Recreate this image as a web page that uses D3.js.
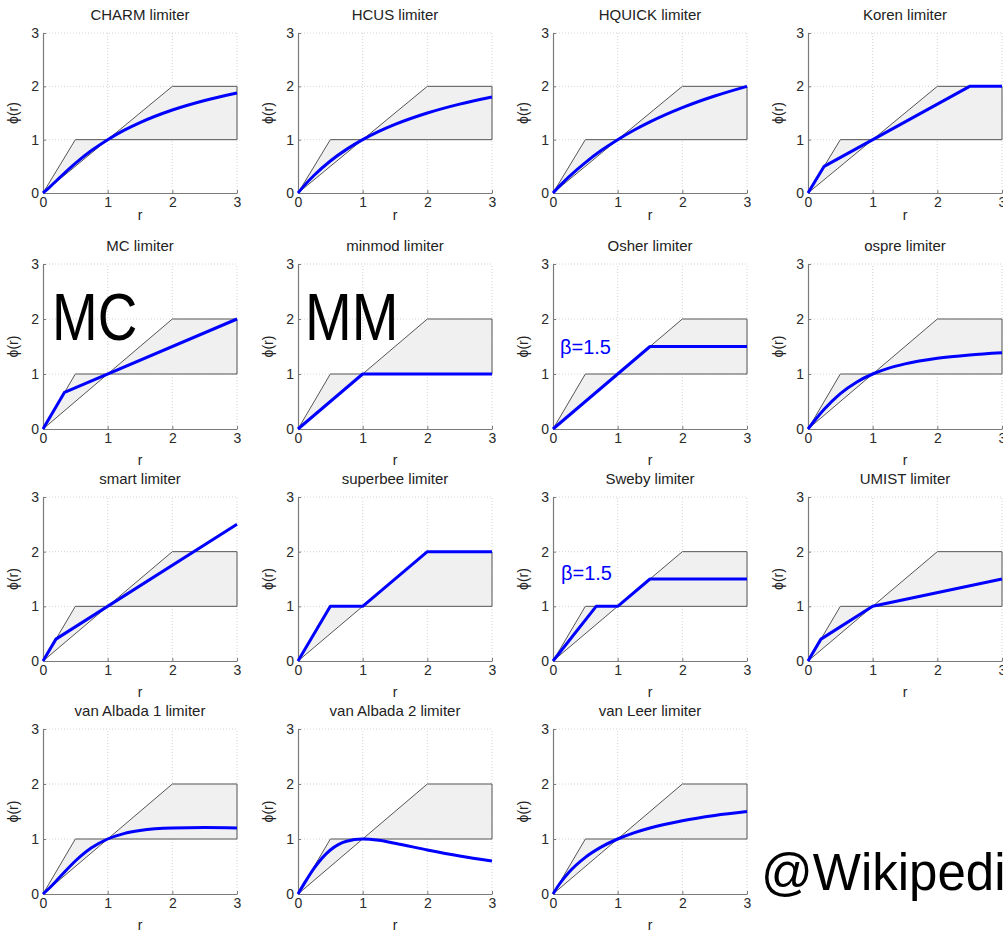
<!DOCTYPE html>
<html>
<head>
<meta charset="utf-8">
<script src="https://cdn.jsdelivr.net/npm/d3@7"></script>
<style>
  body { margin: 0; background: #fff; }
  svg { display: block; font-family: "Liberation Sans", Arial, sans-serif; }
</style>
</head>
<body>
<div id="chart"></div>
<script>
// panel titles, in reading order
const titles = [
    'CHARM limiter', 'HCUS limiter', 'HQUICK limiter', 'Koren limiter',
    'MC limiter', 'minmod limiter', 'Osher limiter', 'ospre limiter',
    'smart limiter', 'superbee limiter', 'Sweby limiter', 'UMIST limiter',
    'van Albada 1 limiter', 'van Albada 2 limiter', 'van Leer limiter'
];

// phi(r) as [r, phi]
const charm = [[0, 0], [0.1, 0.107], [0.25, 0.28], [0.5, 0.556], [0.75, 0.796], [1, 1], [1.25, 1.173], [1.5, 1.32], [2, 1.556], [2.5, 1.735], [3, 1.875]];
const hcus = [[0, 0], [0.1, 0.143], [0.25, 0.333], [0.5, 0.6], [0.75, 0.818], [1, 1], [1.25, 1.154], [1.5, 1.286], [2, 1.5], [2.5, 1.667], [3, 1.8]];
const hquick = [[0, 0], [0.1, 0.129], [0.25, 0.308], [0.5, 0.571], [0.75, 0.8], [1, 1], [1.25, 1.176], [1.5, 1.333], [2, 1.6], [2.5, 1.818], [3, 2]];
const koren = [[0, 0], [0.25, 0.5], [2.5, 2], [3, 2]];
const mc = [[0, 0], [0.333, 0.667], [3, 2]];
const minmod = [[0, 0], [1, 1], [3, 1]];
const osher = [[0, 0], [1.5, 1.5], [3, 1.5]];
const ospre = [[0, 0], [0.1, 0.149], [0.25, 0.357], [0.5, 0.643], [0.75, 0.851], [1, 1], [1.25, 1.107], [1.5, 1.184], [2, 1.286], [2.5, 1.346], [3, 1.385]];
const smart = [[0, 0], [0.2, 0.4], [3, 2.5]];
const superbee = [[0, 0], [0.5, 1], [1, 1], [2, 2], [3, 2]];
const sweby = [[0, 0], [0.667, 1], [1, 1], [1.5, 1.5], [3, 1.5]];
const umist = [[0, 0], [0.2, 0.4], [1, 1], [3, 1.5]];
const vanAlbada1 = [[0, 0], [0.1, 0.109], [0.25, 0.294], [0.5, 0.6], [0.75, 0.84], [1, 1], [1.25, 1.098], [1.5, 1.154], [2, 1.2], [2.5, 1.207], [3, 1.2]];
const vanAlbada2 = [[0, 0], [0.1, 0.198], [0.25, 0.471], [0.5, 0.8], [0.75, 0.96], [1, 1], [1.25, 0.976], [1.5, 0.923], [2, 0.8], [2.5, 0.69], [3, 0.6]];
const vanLeer = [[0, 0], [0.1, 0.182], [0.25, 0.4], [0.5, 0.667], [0.75, 0.857], [1, 1], [1.25, 1.111], [1.5, 1.2], [2, 1.333], [2.5, 1.429], [3, 1.5]];

const limiters = [charm, hcus, hquick, koren, mc, minmod, osher, ospre,
    smart, superbee, sweby, umist, vanAlbada1, vanAlbada2, vanLeer];
// the ones drawn as smooth curves rather than straight pieces
const smoothOnes = [charm, hcus, hquick, ospre, vanAlbada1, vanAlbada2, vanLeer];

// second order TVD region (grey)
const tvdRegion = [[0, 0], [0.5, 1], [1, 1], [2, 2], [3, 2], [3, 1], [1, 1]];
const tickValues = [0, 1, 2, 3];

const width = 1003, height = 931;
const colLeft = [43, 298, 553, 808];
const plotW = 194;
const rowTop = [33, 264, 497, 729];
const rowBottom = [193, 429, 661, 894];
const rLabelGap = [27, 36, 36, 36]; //first row sits tighter

const svg = d3.create('svg')
    .attr('width', width)
    .attr('height', height)
    .attr('viewBox', [0, 0, width, height]);

svg.append('rect').attr('width', width).attr('height', height).attr('fill', '#fff');

limiters.forEach((pts, i) => {
    const col = i % 4, row = Math.floor(i / 4);
    const x = d3.scaleLinear().domain([0, 3]).range([colLeft[col], colLeft[col] + plotW]);
    const y = d3.scaleLinear().domain([0, 3]).range([rowBottom[row], rowTop[row]]);
    const g = svg.append('g');

    //dotted grid, the top and right edge are grid lines too
    g.append('g').selectAll('line').data(tickValues.slice(1)).join('line')
        .attr('x1', d => x(d)).attr('x2', d => x(d))
        .attr('y1', y(0)).attr('y2', y(3))
        .attr('stroke', '#d4d4d4').attr('stroke-dasharray', '1,2');
    g.append('g').selectAll('line').data(tickValues.slice(1)).join('line')
        .attr('x1', x(0)).attr('x2', x(3))
        .attr('y1', d => y(d)).attr('y2', d => y(d))
        .attr('stroke', '#d4d4d4').attr('stroke-dasharray', '1,2');

    g.append('path')
        .datum(tvdRegion)
        .attr('d', d3.line().x(d => x(d[0])).y(d => y(d[1])).curve(d3.curveLinearClosed))
        .attr('fill', '#f0f0f0')
        .attr('stroke', '#555')
        .attr('stroke-width', 1);

    const xAxis = g.append('g')
        .attr('transform', `translate(0,${y(0)})`)
        .call(d3.axisBottom(x).tickValues(tickValues).tickFormat(d3.format('d'))
            .tickSizeInner(-3).tickSizeOuter(0).tickPadding(4));
    const yAxis = g.append('g')
        .attr('transform', `translate(${x(0)},0)`)
        .call(d3.axisLeft(y).tickValues(tickValues).tickFormat(d3.format('d'))
            .tickSizeInner(-3).tickSizeOuter(0).tickPadding(4));
    for (let ax of [xAxis, yAxis]) {
        ax.attr('font-family', null).attr('font-size', 14);
        ax.select('.domain').attr('stroke', '#7a7a7a').attr('stroke-width', 1.2);
        ax.selectAll('.tick line').attr('stroke', '#7a7a7a');
        ax.selectAll('.tick text').attr('fill', '#2a2a2a');
    }

    const isSmooth = smoothOnes.includes(pts);
    g.append('path')
        .datum(pts)
        .attr('d', d3.line().x(d => x(d[0])).y(d => y(d[1]))
            .curve(isSmooth ? d3.curveMonotoneX : d3.curveLinear))
        .attr('fill', 'none')
        .attr('stroke', '#0000ff')
        .attr('stroke-width', 3)
        .attr('stroke-linejoin', 'round');

    g.append('text')
        .attr('x', x(1.5)).attr('y', y(3) - 13)
        .attr('text-anchor', 'middle')
        .attr('font-size', 15)
        .attr('fill', '#222')
        .text(titles[i]);

    g.append('text')
        .attr('x', x(1.5)).attr('y', y(0) + rLabelGap[row])
        .attr('text-anchor', 'middle')
        .attr('font-size', 14)
        .attr('fill', '#222')
        .text('r');

    g.append('text')
        .attr('transform', `translate(${x(0) - 30},${y(1.5)}) rotate(-90)`)
        .attr('dy', '0.35em')
        .attr('text-anchor', 'middle')
        .attr('font-size', 14)
        .attr('fill', '#222')
        .text('ϕ(r)');
});

// hand written notes pasted on top of the figure
const notes = [
    {text: 'MC', x: 52, y: 340, size: 66, sx: 0.83, color: '#000'},
    {text: 'MM', x: 305, y: 340, size: 66, sx: 0.85, color: '#000'},
    {text: 'β=1.5', x: 560, y: 354, size: 20, sx: 1, color: '#0000ff'},
    {text: 'β=1.5', x: 561, y: 580, size: 20, sx: 1, color: '#0000ff'},
    {text: '@Wikipedia', x: 761, y: 890, size: 51, sx: 1, color: '#000'}
];
svg.append('g').selectAll('text').data(notes).join('text')
    .attr('transform', d => `translate(${d.x},${d.y}) scale(${d.sx},1)`)
    .attr('font-size', d => d.size)
    .attr('fill', d => d.color)
    .text(d => d.text);

document.getElementById('chart').appendChild(svg.node());
</script>
</body>
</html>
